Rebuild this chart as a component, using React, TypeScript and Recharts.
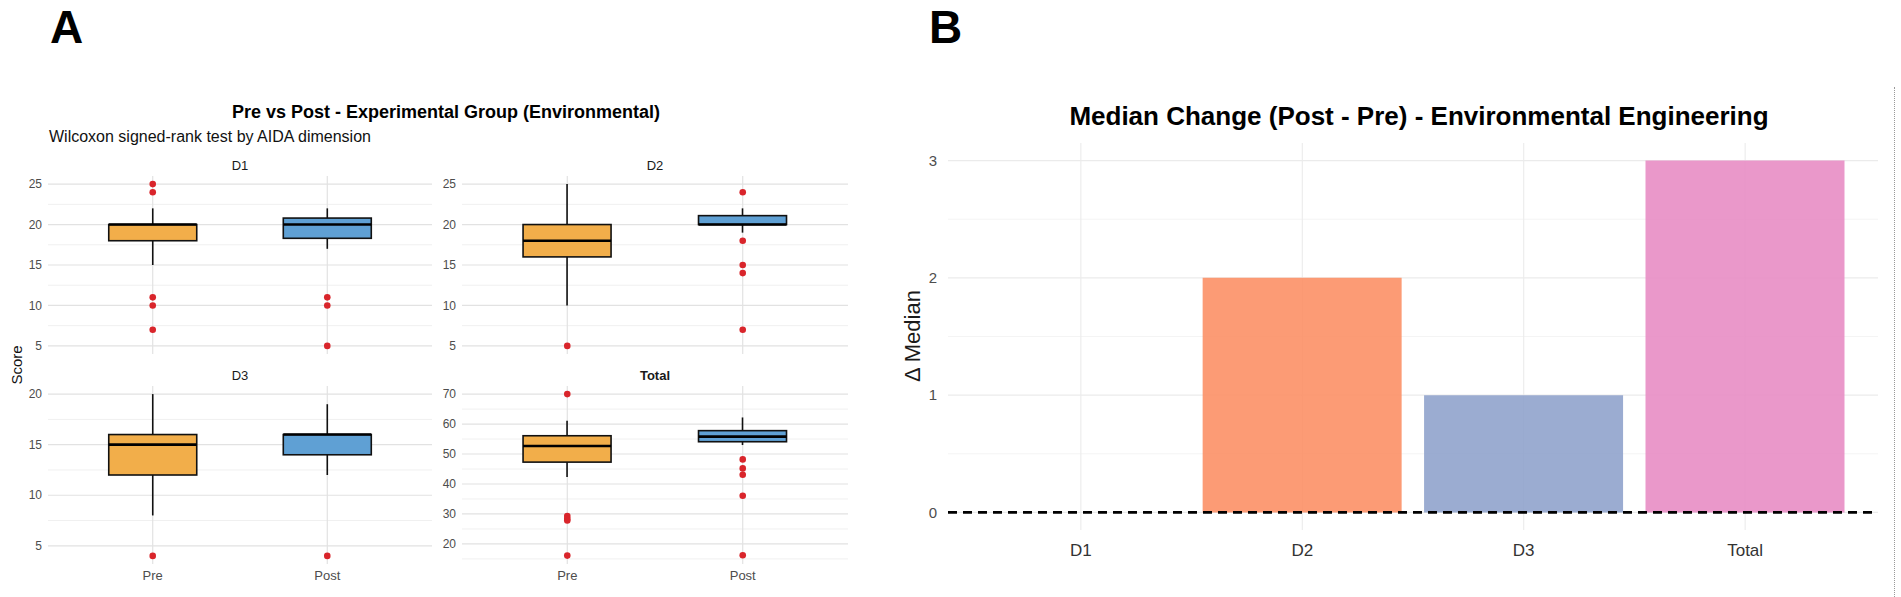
import {
  ComposedChart,
  BarChart,
  Bar,
  Scatter,
  XAxis,
  YAxis,
  CartesianGrid,
  ReferenceLine,
  Cell,
} from "recharts";

// ---- data ----
const groups = ["Pre", "Post"];

// box stats: [whisker low, Q1, median, Q3, whisker high]
const d1Pre = [15, 18, 20, 20, 22];
const d1Post = [17, 18.3, 20, 20.8, 22];
const d2Pre = [10, 16, 18, 20, 25];
const d2Post = [19, 20, 20, 21.1, 22];
const d3Pre = [8, 12, 15, 16, 20];
const d3Post = [12, 14, 16, 16, 19];
const totalPre = [42.3, 47.3, 52.7, 56.1, 61.1];
const totalPost = [53, 54.1, 55.8, 57.8, 62.2];

// outliers
const d1PreOut = [25, 24, 11, 10, 7];
const d1PostOut = [11, 10, 5];
const d2PreOut = [5];
const d2PostOut = [24, 18, 15, 14, 7];
const d3PreOut = [4];
const d3PostOut = [4];
const totalPreOut = [70, 29.3, 28.4, 27.8, 16.1];
const totalPostOut = [48.2, 45.2, 43.1, 36.1, 16.2];

// axis ticks
const d12Ticks = [5, 10, 15, 20, 25];
const d12Minor = [7.5, 12.5, 17.5, 22.5];
const d3Ticks = [5, 10, 15, 20];
const d3Minor = [7.5, 12.5, 17.5];
const totalTicks = [20, 30, 40, 50, 60, 70];
const totalMinor = [15, 25, 35, 45, 55, 65];

// panel B
const dimensions = ["D1", "D2", "D3", "Total"];
const medianChange = [0, 2, 1, 3];
const changeTicks = [0, 1, 2, 3];
const changeMinor = [0.5, 1.5, 2.5];

// ---- styles ----
const FONT = "'Liberation Sans', Arial, Helvetica, sans-serif";
const groupColors: Record<string, string> = { Pre: "#F2AE4A", Post: "#5FA0D4" };
const set2 = ["#66C2A5", "#FC8D62", "#8DA0CB", "#E78AC3"];
const outlierColor = "#D9252B";

const BoxShape = (props: any) => {
  const { x, y, width, height, payload } = props;
  const top = Math.min(y, y + height);
  const bottom = Math.max(y, y + height);
  const lo = payload.low;
  const hi = payload.high;
  const py = (v: number) => bottom - ((bottom - top) * (v - lo)) / (hi - lo);
  const cx = x + width / 2;
  return (
    <g>
      <line x1={cx} x2={cx} y1={py(hi)} y2={py(lo)} stroke="#111" strokeWidth={1.6} />
      <rect
        x={x}
        y={py(payload.q3)}
        width={width}
        height={py(payload.q1) - py(payload.q3)}
        fill={groupColors[payload.group]}
        stroke="#111"
        strokeWidth={1.6}
      />
      <line
        x1={x}
        x2={x + width}
        y1={py(payload.median)}
        y2={py(payload.median)}
        stroke="#000"
        strokeWidth={2.6}
      />
    </g>
  );
};

interface FacetProps {
  pre: number[];
  post: number[];
  preOut: number[];
  postOut: number[];
  domain: [number, number];
  ticks: number[];
  minor: number[];
  left: number;
  right: number;
  top: number;
  bottom: number;
  showX: boolean;
}

function Facet({ pre, post, preOut, postOut, domain, ticks, minor, left, right, top, bottom, showX }: FacetProps) {
  const data = [pre, post].map((s, i) => ({
    group: groups[i],
    low: s[0],
    q1: s[1],
    median: s[2],
    q3: s[3],
    high: s[4],
  }));
  const outliers = [
    ...preOut.map((v) => ({ group: "Pre", value: v })),
    ...postOut.map((v) => ({ group: "Post", value: v })),
  ];
  const plotW = right - left;
  // ggplot discrete expansion: 0.6 of a category on each side
  const pad = plotW / 22;
  const padL = 45;
  const padT = 5;
  const padR = 6;
  const xH = 25;
  const padB = showX ? xH + 5 : 5;
  return (
    <div style={{ position: "absolute", left: left - padL, top: top - padT }}>
      <ComposedChart
        width={plotW + padL + padR}
        height={bottom - top + padT + padB}
        data={data}
        margin={{ top: padT, right: padR, bottom: 5, left: padL - 40 }}
        barCategoryGap="24.8%"
      >
        <CartesianGrid stroke="#f0f0f0" strokeWidth={1} vertical={false} horizontalValues={minor} syncWithTicks />
        <CartesianGrid
          stroke="#e2e2e2"
          strokeWidth={1.2}
          horizontalValues={ticks}
          verticalValues={groups}
          syncWithTicks
        />
        <XAxis
          dataKey="group"
          type="category"
          allowDuplicatedCategory={false}
          hide={!showX}
          height={xH}
          padding={{ left: pad, right: pad }}
          tickLine={false}
          axisLine={false}
          tickSize={4}
          tickMargin={3}
          tick={{ fontSize: 13, fill: "#4d4d4d", fontFamily: FONT }}
        />
        <YAxis
          type="number"
          domain={domain}
          ticks={ticks}
          allowDataOverflow
          interval={0}
          width={40}
          tickLine={false}
          axisLine={false}
          tickSize={4}
          tickMargin={2}
          tick={{ fontSize: 12, fill: "#4d4d4d", fontFamily: FONT }}
        />
        <Bar dataKey={(d: any) => [d.low, d.high]} shape={BoxShape} isAnimationActive={false} />
        <Scatter
          data={outliers}
          dataKey="value"
          isAnimationActive={false}
          shape={(p: any) => <circle cx={p.cx} cy={p.cy} r={3.3} fill={outlierColor} />}
        />
      </ComposedChart>
    </div>
  );
}

export default function App() {
  const changeData = dimensions.map((d, i) => ({ dim: d, change: medianChange[i] }));
  const bPlotW = 930;
  const bPad = bPlotW / 42;
  return (
    <div
      style={{
        position: "absolute",
        left: 0,
        top: 0,
        width: 1901,
        height: 597,
        background: "#fff",
        fontFamily: FONT,
        overflow: "hidden",
      }}
    >
      <Facet pre={d1Pre} post={d1Post} preOut={d1PreOut} postOut={d1PostOut} domain={[4, 26]} ticks={d12Ticks} minor={d12Minor} left={48} right={432} top={176} bottom={354} showX={false} />
      <Facet pre={d2Pre} post={d2Post} preOut={d2PreOut} postOut={d2PostOut} domain={[4, 26]} ticks={d12Ticks} minor={d12Minor} left={462} right={848} top={176} bottom={354} showX={false} />
      <Facet pre={d3Pre} post={d3Post} preOut={d3PreOut} postOut={d3PostOut} domain={[3.2, 20.8]} ticks={d3Ticks} minor={d3Minor} left={48} right={432} top={386} bottom={564} showX={true} />
      <Facet pre={totalPre} post={totalPost} preOut={totalPreOut} postOut={totalPostOut} domain={[13.3, 72.7]} ticks={totalTicks} minor={totalMinor} left={462} right={848} top={386} bottom={564} showX={true} />

      {/* Panel B */}
      <div style={{ position: "absolute", left: 880, top: 130 }}>
        <BarChart
          width={1010}
          height={450}
          data={changeData}
          margin={{ top: 13, right: 1010 - 68 - bPlotW, bottom: 10, left: 23 }}
          barCategoryGap="5%"
        >
          <CartesianGrid stroke="#f4f4f4" strokeWidth={1} vertical={false} horizontalValues={changeMinor} syncWithTicks />
          <CartesianGrid
            stroke="#ebebeb"
            strokeWidth={1.1}
            horizontalValues={changeTicks}
            verticalValues={dimensions}
            syncWithTicks
          />
          <XAxis
            dataKey="dim"
            height={40}
            padding={{ left: bPad, right: bPad }}
            tickLine={false}
            axisLine={false}
            tickSize={8}
            tickMargin={6}
            tick={{ fontSize: 17, fill: "#333", fontFamily: "'Liberation Sans Narrow', " + FONT }}
          />
          <YAxis
            type="number"
            domain={[-0.15, 3.15]}
            ticks={changeTicks}
            allowDataOverflow
            interval={0}
            width={45}
            tickLine={false}
            axisLine={false}
            tickSize={6}
            tickMargin={5}
            tick={{ fontSize: 15, fill: "#4d4d4d", fontFamily: FONT }}
          />
          <Bar dataKey="change" isAnimationActive={false} fillOpacity={0.88}>
            {changeData.map((d, i) => (
              <Cell key={d.dim} fill={set2[i]} />
            ))}
          </Bar>
          <ReferenceLine y={0} stroke="#000" strokeWidth={2.6} strokeDasharray="9 6" />
        </BarChart>
      </div>

      <div
        style={{
          position: "absolute",
          left: 1894,
          top: 87,
          height: 510,
          borderLeft: "1px dotted #999",
        }}
      />

      {/* titles and labels */}
      <svg
        width={1901}
        height={597}
        style={{ position: "absolute", left: 0, top: 0, pointerEvents: "none" }}
        fontFamily={FONT}
      >
        <text x={50} y={43} fontSize={46} fontWeight="bold" fill="#000">A</text>
        <text x={929} y={43} fontSize={46} fontWeight="bold" fill="#000">B</text>
        <text x={446} y={118} fontSize={18} fontWeight="bold" fill="#000" textAnchor="middle">
          Pre vs Post - Experimental Group (Environmental)
        </text>
        <text x={49} y={142} fontSize={16} fill="#111">Wilcoxon signed-rank test by AIDA dimension</text>
        <text x={22} y={365} fontSize={15} fill="#111" textAnchor="middle" transform="rotate(-90 22 365)">
          Score
        </text>
        <text x={240} y={170} fontSize={13} fill="#1a1a1a" textAnchor="middle">D1</text>
        <text x={655} y={170} fontSize={13} fill="#1a1a1a" textAnchor="middle">D2</text>
        <text x={240} y={380} fontSize={13} fill="#1a1a1a" textAnchor="middle">D3</text>
        <text x={655} y={380} fontSize={13} fill="#1a1a1a" textAnchor="middle" fontWeight="bold">Total</text>
        <text x={1419} y={125} fontSize={26} fontWeight="bold" fill="#000" textAnchor="middle">
          Median Change (Post - Pre) - Environmental Engineering
        </text>
        <text x={920} y={336} fontSize={22} fill="#1a1a1a" textAnchor="middle" transform="rotate(-90 920 336)">
          Δ Median
        </text>
      </svg>
    </div>
  );
}
